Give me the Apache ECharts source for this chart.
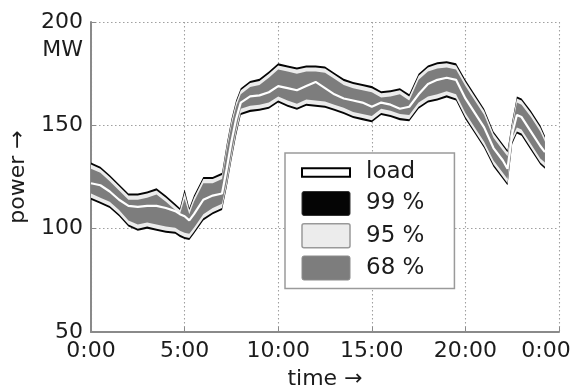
<!DOCTYPE html>
<html>
<head>
<meta charset="utf-8">
<script src="https://cdn.jsdelivr.net/npm/echarts@6/dist/echarts.min.js"></script>
<style>
  html, body { margin: 0; padding: 0; background: #fff; }
  #chart { width: 573px; height: 389px; }
</style>
</head>
<body>
<div id="chart"></div>
<script>
// hours after midnight
var times = [0, 0.5, 1, 1.5, 2, 2.5, 3, 3.5, 4, 4.5,
	4.75, 5, 5.25, 5.5,
	6, 6.5, 7,
	7.25, 7.5, 7.75, 8,
	8.5, 9, 9.5, 10, 10.5, 11, 11.5, 12, 12.5, 13, 13.5, 14, 14.5, 15,
	15.5, 16, 16.5, 17, 17.5, 18, 18.5, 19, 19.5, 20, 20.5, 21, 21.5, 22,
	22.25, 22.5, 22.75, 23,
	23.5, 24, 24.25];

var load = [122, 121, 118, 114, 111, 110.5, 111, 111, 110, 108.5,
	107, 106, 104, 107,
	114, 116, 117,
	129, 142, 153, 161,
	164, 164.5, 166, 169, 168, 167, 169, 171, 168, 165, 163, 162, 161, 159,
	161, 160, 158, 159, 165, 170, 172, 173, 172, 163, 156, 149, 139, 133,
	129, 146, 155, 154,
	147, 140, 137];

var hi99 = [132, 130, 126, 121.5, 117, 117, 118, 119.5, 116, 112,
	110, 119, 110, 116,
	125, 125, 127,
	141, 153, 162, 168,
	171.5, 172.5, 176, 180, 179, 178, 179, 179, 178.5, 175.5, 172.5, 171, 170, 169,
	166.5, 167, 168, 165, 175, 179, 180.5, 181, 180, 172, 165, 158, 147, 141,
	138, 152, 164, 163,
	157, 150, 145];
var lo99 = [114, 112, 110, 106, 101, 99, 100, 99, 98, 97.5,
	96, 95, 94.5, 97.5,
	104, 107, 109,
	120, 133, 145, 155,
	156.5, 157, 158, 161, 159, 157.5, 159.5, 159, 158.5, 157, 155.5, 153.5, 152.5, 151.5,
	155, 154, 152.5, 152, 158, 161, 162, 163.5, 162, 153, 146, 139, 130, 124,
	121, 141, 146, 145,
	138, 131, 129];

var hi95 = [131, 129, 125, 120.5, 116, 116, 117, 118.5, 115, 111,
	109, 117.5, 109, 115,
	124, 124, 126,
	140, 152, 161, 167,
	170.5, 171.5, 175, 179, 178, 177, 178, 178, 177.5, 174.5, 171.5, 170, 169, 168,
	165.5, 166, 167, 164, 174, 178, 179.5, 180, 179, 171, 164, 157, 146, 140,
	137, 151, 163, 162,
	156, 149, 144];
var lo95 = [115, 113, 111, 107, 102, 100, 101, 100, 99, 98.5,
	97, 96, 95.5, 98.5,
	105, 108, 110,
	121, 134, 146, 156,
	157.5, 158, 159, 162, 160, 158.5, 160.5, 160, 159.5, 158, 156.5, 154.5, 153.5, 152.5,
	156, 155, 153.5, 153, 159, 162, 163, 164.5, 163, 154, 147, 140, 131, 125,
	122, 142, 147, 146,
	139, 132, 130];

var hi68 = [129, 127, 123, 118.5, 114, 114, 115, 116.5, 113, 109,
	107, 114.5, 107, 113,
	122, 122, 124,
	138, 150, 159, 165,
	168.5, 169.5, 173, 177, 176, 175, 176, 176, 175.5, 172.5, 169.5, 168, 167, 166,
	163.5, 164, 165, 162, 172, 176, 177.5, 178, 177, 169, 162, 155, 144, 138,
	135, 149, 161, 160,
	154, 147, 142];
var lo68 = [117, 115, 113, 109, 104, 102, 103, 102, 101, 100.5,
	99, 98, 97.5, 100.5,
	107, 110, 112,
	123, 136, 148, 158,
	159.5, 160, 161, 164, 162, 160.5, 162.5, 162, 161.5, 160, 158.5, 156.5, 155.5, 154.5,
	158, 157, 155.5, 155, 161, 164, 165, 166.5, 165, 156, 149, 142, 133, 127,
	124, 144, 149, 148,
	141, 134, 132];

var xTickLabels = ['0:00', '5:00', '10:00', '15:00', '20:00', '0:00'];
var yTicks = [50, 100, 150, 200];

var FONT = '"DejaVu Sans", "Liberation Sans", sans-serif';
var TXT = '#1c1c1c';

// polygon between an upper and a lower boundary, placed with api.coord
function bandSeries(name, hi, lo, color) {
	return {
		name: name,
		type: 'custom',
		silent: true,
		data: [[times[0], lo[0]]],
		itemStyle: { color: color },
		renderItem: function (params, api) {
			var pts = [];
			for (var i = 0; i < times.length; i++) {
				pts.push(api.coord([times[i], hi[i]]));
			}
			for (var j = times.length - 1; j >= 0; j--) {
				pts.push(api.coord([times[j], lo[j]]));
			}
			return {
				type: 'polygon',
				shape: { points: pts },
				style: { fill: color }
			};
		}
	};
}

var myChart = echarts.init(document.getElementById('chart'), null, { renderer: 'canvas' });

var gridLine = { show: true, lineStyle: { color: '#a0a0a0', type: [1.5, 2.5], width: 1.1 } };

var option = {
	animation: false,
	backgroundColor: '#fff',
	textStyle: { fontFamily: FONT },
	grid: { left: 91, right: 14, top: 22, bottom: 57, outerBoundsMode: 'none', containLabel: false },
	xAxis: {
		type: 'value',
		min: 0,
		max: 25,
		interval: 5,
		name: 'time →',
		nameLocation: 'middle',
		nameGap: 36,
		nameTextStyle: { fontSize: 22, color: TXT, fontFamily: FONT },
		axisLine: { onZero: false, lineStyle: { color: '#8a8a8a', width: 2 } },
		axisTick: { inside: true, length: 5, lineStyle: { color: '#8a8a8a' } },
		axisLabel: {
			fontSize: 22,
			color: TXT,
			fontFamily: FONT,
			margin: 8,
			formatter: function (v) {
				var k = Math.round(v / 5);
				if (k === xTickLabels.length - 1) return '{r|' + xTickLabels[k] + '}';
				return xTickLabels[k];
			},
			rich: {
				r: { fontSize: 22, color: TXT, fontFamily: FONT, padding: [0, 26, 0, 0] }
			}
		},
		splitLine: gridLine
	},
	yAxis: {
		type: 'value',
		min: yTicks[0],
		max: yTicks[yTicks.length - 1],
		interval: 50,
		name: 'power →',
		nameLocation: 'middle',
		nameGap: 62,
		nameTextStyle: { fontSize: 22, color: TXT, fontFamily: FONT },
		axisLine: { show: true, lineStyle: { color: '#8a8a8a', width: 2 } },
		axisTick: { show: true, inside: true, length: 5, lineStyle: { color: '#8a8a8a' } },
		axisLabel: { fontSize: 22, color: TXT, fontFamily: FONT, margin: 8 },
		splitLine: gridLine
	},
	legend: {
		left: 285,
		top: 153,
		orient: 'vertical',
		selectedMode: false,
		itemWidth: 48,
		itemHeight: 24,
		itemGap: 7,
		padding: [8, 30, 8, 16],
		backgroundColor: '#fff',
		borderColor: '#9a9a9a',
		borderWidth: 1.5,
		borderRadius: 0,
		textStyle: { fontSize: 23, color: TXT, fontFamily: FONT, padding: [0, 0, 0, 11] },
		data: [
			{ name: 'load', icon: 'path://M0,0H46V8H0Z', itemStyle: { color: '#fff', borderColor: '#000', borderWidth: 2 } },
			{ name: '99 %', icon: 'path://M2,0H46Q48,0 48,2V22Q48,24 46,24H2Q0,24 0,22V2Q0,0 2,0Z', itemStyle: { color: '#050505', borderColor: '#333', borderWidth: 1 } },
			{ name: '95 %', icon: 'path://M2,0H46Q48,0 48,2V22Q48,24 46,24H2Q0,24 0,22V2Q0,0 2,0Z', itemStyle: { color: '#ececec', borderColor: '#999', borderWidth: 1.5 } },
			{ name: '68 %', icon: 'path://M2,0H46Q48,0 48,2V22Q48,24 46,24H2Q0,24 0,22V2Q0,0 2,0Z', itemStyle: { color: '#7d7d7d', borderColor: '#8c8c8c', borderWidth: 1 } }
		]
	},
	graphic: [
		{
			type: 'text',
			style: {
				text: 'MW', x: 83, y: 50, align: 'right', verticalAlign: 'middle',
				fill: TXT, fontSize: 22, fontFamily: FONT
			}
		}
	],
	series: [
		bandSeries('99 %', hi99, lo99, '#050505'),
		bandSeries('95 %', hi95, lo95, '#ececec'),
		bandSeries('68 %', hi68, lo68, '#7d7d7d'),
		{
			name: 'load',
			type: 'line',
			silent: true,
			symbol: 'none',
			itemStyle: { color: '#fff' },
			lineStyle: { color: '#fff', width: 2.2 },
			data: times.map(function (t, i) { return [t, load[i]]; })
		}
	]
};
myChart.setOption(option);
</script>
</body>
</html>
